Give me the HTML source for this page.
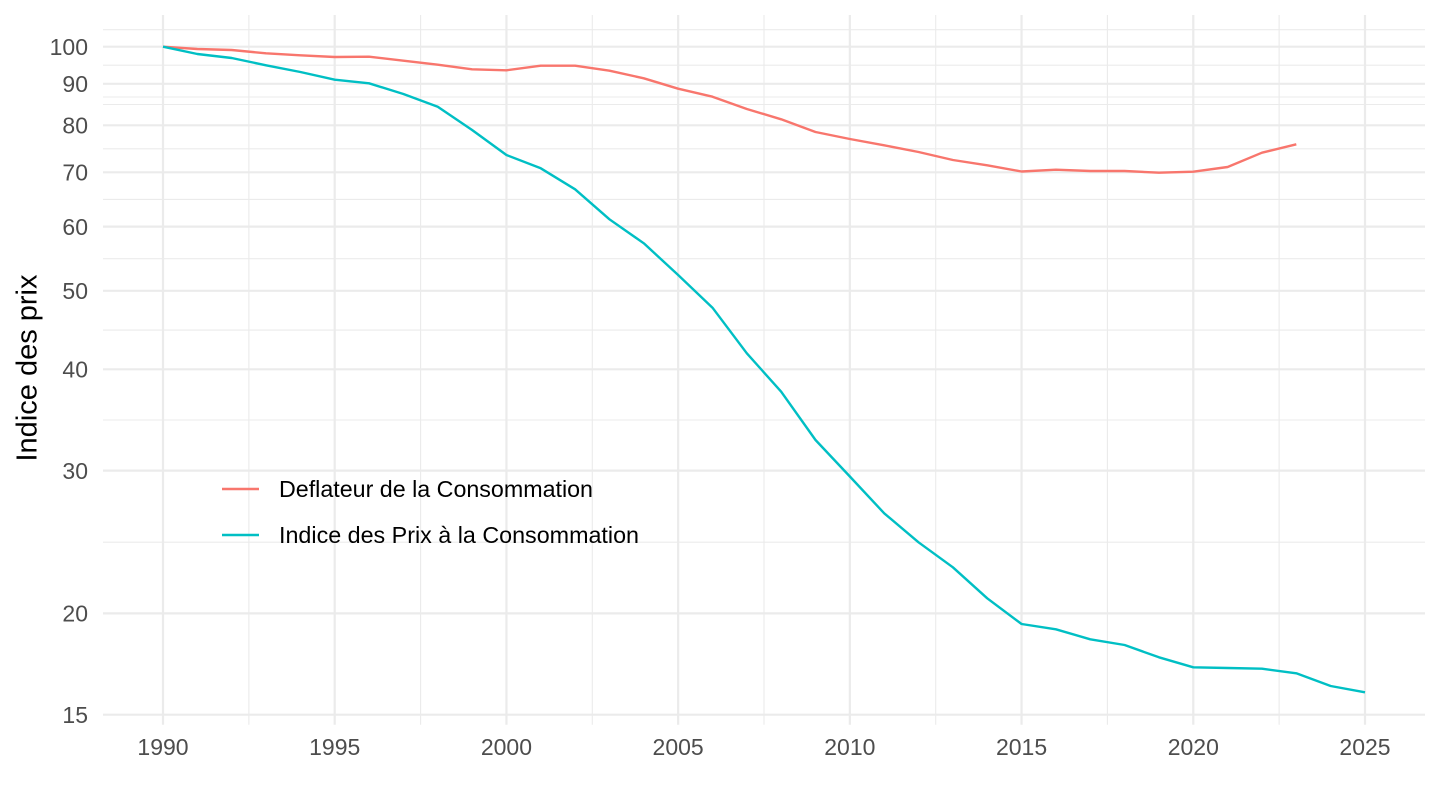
<!DOCTYPE html>
<html>
<head>
<meta charset="utf-8">
<style>
  html, body { margin: 0; padding: 0; background: #ffffff; }
  svg { display: block; }
  text { font-family: "Liberation Sans", Arial, sans-serif; }
</style>
</head>
<body>
<svg width="1440" height="810" viewBox="0 0 1440 810" xmlns="http://www.w3.org/2000/svg">
  <rect x="0" y="0" width="1440" height="810" fill="#ffffff"/>

  <!-- minor horizontal grid -->
  <g stroke="#EBEBEB" stroke-width="1.1" fill="none">
    <line x1="103" x2="1425" y1="29.7" y2="29.7"/>
    <line x1="103" x2="1425" y1="65.2" y2="65.2"/>
    <line x1="103" x2="1425" y1="97" y2="97"/>
    <line x1="103" x2="1425" y1="104.5" y2="104.5"/>
    <line x1="103" x2="1425" y1="148.8" y2="148.8"/>
    <line x1="103" x2="1425" y1="199.4" y2="199.4"/>
    <line x1="103" x2="1425" y1="258.7" y2="258.7"/>
    <line x1="103" x2="1425" y1="330.1" y2="330.1"/>
    <line x1="103" x2="1425" y1="420" y2="420"/>
    <line x1="103" x2="1425" y1="542.2" y2="542.2"/>
  </g>
  <!-- minor vertical grid -->
  <g stroke="#EBEBEB" stroke-width="1.1" fill="none">
    <line y1="15" y2="724.7" x1="248.86" x2="248.86"/>
    <line y1="15" y2="724.7" x1="420.57" x2="420.57"/>
    <line y1="15" y2="724.7" x1="592.29" x2="592.29"/>
    <line y1="15" y2="724.7" x1="764" x2="764"/>
    <line y1="15" y2="724.7" x1="935.71" x2="935.71"/>
    <line y1="15" y2="724.7" x1="1107.43" x2="1107.43"/>
    <line y1="15" y2="724.7" x1="1279.14" x2="1279.14"/>
  </g>
  <!-- major horizontal grid -->
  <g stroke="#EBEBEB" stroke-width="2.2" fill="none">
    <line x1="103" x2="1425" y1="46.7" y2="46.7"/>
    <line x1="103" x2="1425" y1="83.8" y2="83.8"/>
    <line x1="103" x2="1425" y1="125.3" y2="125.3"/>
    <line x1="103" x2="1425" y1="172.3" y2="172.3"/>
    <line x1="103" x2="1425" y1="226.6" y2="226.6"/>
    <line x1="103" x2="1425" y1="290.8" y2="290.8"/>
    <line x1="103" x2="1425" y1="369.3" y2="369.3"/>
    <line x1="103" x2="1425" y1="470.6" y2="470.6"/>
    <line x1="103" x2="1425" y1="613.4" y2="613.4"/>
    <line x1="103" x2="1425" y1="714.7" y2="714.7"/>
  </g>
  <!-- major vertical grid -->
  <g stroke="#EBEBEB" stroke-width="2.2" fill="none">
    <line y1="15" y2="724.7" x1="163" x2="163"/>
    <line y1="15" y2="724.7" x1="334.71" x2="334.71"/>
    <line y1="15" y2="724.7" x1="506.43" x2="506.43"/>
    <line y1="15" y2="724.7" x1="678.14" x2="678.14"/>
    <line y1="15" y2="724.7" x1="849.86" x2="849.86"/>
    <line y1="15" y2="724.7" x1="1021.57" x2="1021.57"/>
    <line y1="15" y2="724.7" x1="1193.29" x2="1193.29"/>
    <line y1="15" y2="724.7" x1="1365" x2="1365"/>
  </g>

  <!-- Series: Deflateur -->
  <polyline fill="none" stroke="#F8766D" stroke-width="2.4" stroke-linejoin="round" stroke-linecap="butt"
    points="163,46.7 197.34,49 231.69,50 266.03,53.3 300.37,55.3 334.71,57 369.06,56.7 403.4,60.7 437.74,64.7 472.09,69.3 506.43,70.3 540.77,65.7 575.11,65.7 609.46,70.7 643.8,78.3 678.14,88.7 712.49,96.7 746.83,109 781.17,119.3 815.51,132 849.86,139 884.2,145.3 918.54,152 952.89,160 987.23,165.3 1021.57,171.5 1055.91,169.7 1090.26,171 1124.6,171 1158.94,172.7 1193.29,171.7 1227.63,167 1261.97,152.7 1296.31,144.3"/>

  <!-- Series: IPC -->
  <polyline fill="none" stroke="#00BFC4" stroke-width="2.4" stroke-linejoin="round" stroke-linecap="butt"
    points="163,46.7 197.34,54 231.69,58 266.03,65.3 300.37,72 334.71,79.7 369.06,83.3 403.4,94 437.74,106.7 472.09,130 506.43,155 540.77,168.3 575.11,189.3 609.46,219.3 643.8,243.3 678.14,275 712.49,307.7 746.83,353.3 781.17,391.7 815.51,440 849.86,476.5 884.2,513.3 918.54,542.3 952.89,567.3 987.23,598.3 1021.57,624 1055.91,629.3 1090.26,639.3 1124.6,645 1158.94,657.3 1193.29,667.3 1227.63,668 1261.97,668.7 1296.31,673.3 1330.66,686 1365,692.3"/>

  <!-- Y axis labels -->
  <g fill="#4D4D4D" font-size="23" text-anchor="end">
    <text x="88" y="54.9">100</text>
    <text x="88" y="92">90</text>
    <text x="88" y="133.5">80</text>
    <text x="88" y="180.5">70</text>
    <text x="88" y="234.8">60</text>
    <text x="88" y="299">50</text>
    <text x="88" y="377.5">40</text>
    <text x="88" y="478.8">30</text>
    <text x="88" y="621.6">20</text>
    <text x="88" y="722.9">15</text>
  </g>

  <!-- X axis labels -->
  <g fill="#4D4D4D" font-size="23" text-anchor="middle">
    <text x="163" y="755">1990</text>
    <text x="334.71" y="755">1995</text>
    <text x="506.43" y="755">2000</text>
    <text x="678.14" y="755">2005</text>
    <text x="849.86" y="755">2010</text>
    <text x="1021.57" y="755">2015</text>
    <text x="1193.29" y="755">2020</text>
    <text x="1365" y="755">2025</text>
  </g>

  <!-- Y axis title -->
  <text x="0" y="0" font-size="29" fill="#000000" text-anchor="middle"
        transform="translate(36.7,368) rotate(-90)">Indice des prix</text>

  <!-- Legend -->
  <line x1="222" x2="259" y1="489" y2="489" stroke="#F8766D" stroke-width="2.4"/>
  <line x1="222" x2="259" y1="535" y2="535" stroke="#00BFC4" stroke-width="2.4"/>
  <text x="279" y="497.2" font-size="23" fill="#000000" textLength="314" lengthAdjust="spacingAndGlyphs">Deflateur de la Consommation</text>
  <text x="279" y="543.2" font-size="23" fill="#000000" textLength="360" lengthAdjust="spacingAndGlyphs">Indice des Prix à la Consommation</text>
</svg>
</body>
</html>
